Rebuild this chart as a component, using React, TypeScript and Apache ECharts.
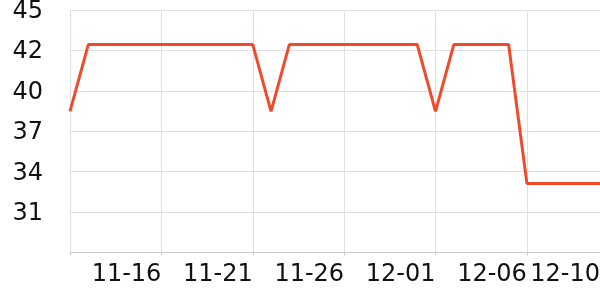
import React, { useEffect, useRef } from "react";
import * as echarts from "echarts";

const dates: string[] = [
  "11-11", "11-12", "11-13", "11-14", "11-15", "11-16", "11-17", "11-18", "11-19", "11-20",
  "11-21", "11-22", "11-23", "11-24", "11-25", "11-26", "11-27", "11-28", "11-29", "11-30",
  "12-01", "12-02", "12-03", "12-04", "12-05", "12-06", "12-07", "12-08", "12-09", "12-10",
];

const values: number[] = [
  38.1,
  42.65, 42.65, 42.65, 42.65, 42.65, 42.65, 42.65, 42.65, 42.65, 42.65,
  38.1,
  42.65, 42.65, 42.65, 42.65, 42.65, 42.65, 42.65, 42.65,
  38.1,
  42.65, 42.65, 42.65, 42.65,
  33.2, 33.2, 33.2, 33.2, 33.2,
];

const yMin = 28.5;
const yMax = 45;
const yInterval = 2.75;

export default function App() {
  const ref = useRef<HTMLDivElement>(null);
  useEffect(() => {
    if (!ref.current) return;
    const chart = echarts.init(ref.current, undefined, { renderer: "svg" });
    const last = dates.length - 1;
    chart.setOption({
      animation: false,
      grid: {
        left: 70,
        right: 0,
        top: 10,
        bottom: 47.5,
        containLabel: false,
        outerBoundsMode: "none",
      },
      xAxis: {
        type: "category",
        data: dates,
        boundaryGap: false,
        axisLine: { show: true, lineStyle: { color: "#c8c8c8", width: 1 } },
        axisTick: {
          show: true,
          length: 3,
          interval: (i: number) => i % 5 === 0,
          lineStyle: { color: "#c8c8c8" },
        },
        axisLabel: {
          interval: (i: number) => i > 0 && (i % 5 === 0 || i === last),
          align: "right",
          fontSize: 24,
          fontFamily: "DejaVu Sans",
          color: "#111",
          margin: 8,
        },
        splitLine: {
          show: true,
          interval: (i: number) => i % 5 === 0,
          lineStyle: { color: "#e0e0e0", width: 1 },
        },
      },
      yAxis: {
        type: "value",
        min: yMin,
        max: yMax,
        interval: yInterval,
        axisLine: { show: false },
        axisTick: { show: false },
        axisLabel: {
          fontSize: 24,
          fontFamily: "DejaVu Sans",
          color: "#111",
          margin: 27,
          showMinLabel: false,
          formatter: (v: number) => String(Math.round(v)),
        },
        splitLine: { show: true, lineStyle: { color: "#e0e0e0", width: 1 } },
      },
      series: [
        {
          type: "line",
          data: values,
          showSymbol: false,
          symbol: "none",
          lineStyle: { color: "#ef4b2b", width: 3 },
          itemStyle: { color: "#ef4b2b" },
        },
      ],
    });
    return () => chart.dispose();
  }, []);
  return (
    <div
      ref={ref}
      style={{ position: "fixed", left: 0, top: 0, width: 600, height: 300 }}
    />
  );
}
